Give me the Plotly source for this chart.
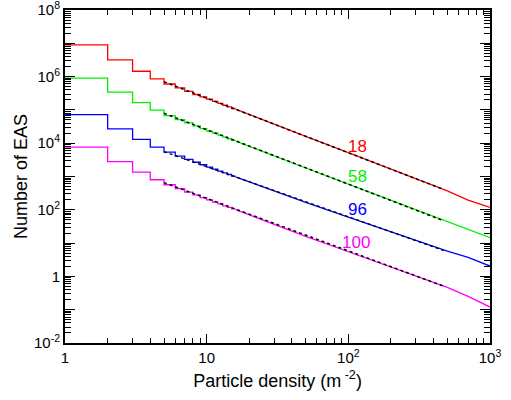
import math
import plotly.graph_objects as go

# ---- data ----
bin_edges = list(range(1, 17))  # integer bins 1..16

red_bins = [9.0e6, 3.2e6, 1.45e6, 8.5e5, 6.0e5, 4.6e5, 3.6e5, 2.9e5, 2.45e5, 2.1e5, 1.8e5, 1.57e5, 1.38e5, 1.23e5, 1.1e5]
green_bins = [9.0e5, 3.4e5, 1.65e5, 9.8e4, 6.7e4, 5.1e4, 4.05e4, 3.3e4, 2.74e4, 2.32e4, 2.0e4, 1.74e4, 1.53e4, 1.36e4, 1.22e4]
blue_bins = [7.2e4, 2.7e4, 1.3e4, 7.6e3, 5.4e3, 4.1e3, 3.27e3, 2.68e3, 2.25e3, 1.92e3, 1.66e3, 1.46e3, 1.29e3, 1.15e3, 1.03e3]
magenta_bins = [7.6e3, 2.8e3, 1.35e3, 800, 565, 430, 340, 279, 233, 198, 171, 150, 132, 118, 106]

tail_x = [16, 20, 30, 50, 100, 200, 300, 500, 700, 1000]
red_tail = [1.05e5, 7.2e4, 3.7e4, 1.6e4, 5.2e3, 1.66e3, 850, 370, 195, 118]
green_tail = [1.16e4, 8.0e3, 4.0e3, 1.8e3, 590, 194, 102, 45, 25, 14.5]
blue_tail = [980, 690, 370, 168, 60, 21, 12, 5.7, 3.7, 2.05]
magenta_tail = [101, 70, 36, 16, 5.5, 1.87, 1.0, 0.47, 0.25, 0.12]

fit_x = [5, 470]
red_fit = [7.0e5, 410]
green_fit = [7.9e4, 47]
blue_fit = [5.6e3, 6.0]
magenta_fit = [655, 0.51]

labels = ["18", "58", "96", "100"]
label_x = [116, 116, 116, 113]
label_y = [7.9e3, 1.03e3, 104, 10.3]
colors = ["#ff0000", "#00f000", "#0000ff", "#ff00ff"]

series = [
    (red_bins, red_tail, red_fit),
    (green_bins, green_tail, green_fit),
    (blue_bins, blue_tail, blue_fit),
    (magenta_bins, magenta_tail, magenta_fit),
]

fig = go.Figure()
for (bins, tail, fit), col in zip(series, colors):
    fig.add_trace(go.Scatter(x=bin_edges, y=bins + [bins[-1]], mode="lines",
                             line=dict(color=col, width=1.3, shape="hv"),
                             showlegend=False, hoverinfo="skip"))
    fig.add_trace(go.Scatter(x=tail_x, y=tail, mode="lines",
                             line=dict(color=col, width=1.3),
                             showlegend=False, hoverinfo="skip"))
for (bins, tail, fit), col in zip(series, colors):
    fig.add_trace(go.Scatter(x=fit_x, y=fit, mode="lines",
                             line=dict(color="black", width=1.5, dash="3px,3px"),
                             showlegend=False, hoverinfo="skip"))

for t, lx, ly, col in zip(labels, label_x, label_y, colors):
    fig.add_annotation(x=math.log10(lx), y=math.log10(ly), text=t, showarrow=False,
                       font=dict(size=17, color=col), xref="x", yref="y")

x_minor = [k * 10 ** n for n in range(0, 3) for k in range(2, 10)]
y_major = [10.0 ** k for k in range(-2, 9)]
y_text = []
for k in range(-2, 9):
    if k % 2:
        y_text.append("")
    elif k == 0:
        y_text.append("1")
    else:
        y_text.append("10<sup>%d</sup>" % k)
y_minor = [k * 10.0 ** n for n in range(-2, 8) for k in range(2, 10)]

font = "Liberation Sans, Arial, Helvetica, sans-serif"
fig.update_layout(
    width=511, height=400,
    margin=dict(l=65, r=21, t=10, b=57),
    paper_bgcolor="white", plot_bgcolor="white",
    font=dict(family=font, size=15, color="black"),
    xaxis=dict(type="log", range=[0, 3], tickmode="array", automargin=False,
               tickvals=[1, 10, 100, 1000],
               ticktext=["1", "10", "10<sup>2</sup>", "10<sup>3</sup>"],
               ticklabeloverflow="allow",
               ticks="inside", ticklen=9, tickwidth=1, tickcolor="black",
               showline=True, linewidth=2, linecolor="black", mirror="ticks",
               showgrid=False, zeroline=False,
               minor=dict(tickmode="array", tickvals=x_minor, ticks="inside",
                          ticklen=5, tickwidth=1, tickcolor="black", showgrid=False),
               title=dict(text="Particle density (m<sup> -2</sup>)", font=dict(size=18), standoff=9),
               tickfont=dict(size=15)),
    yaxis=dict(type="log", range=[-2, 8], tickmode="array", automargin=False,
               tickvals=y_major, ticktext=y_text,
               ticklabeloverflow="allow",
               ticks="inside", ticklen=10, tickwidth=1, tickcolor="black",
               showline=True, linewidth=2, linecolor="black", mirror="ticks",
               showgrid=False, zeroline=False,
               minor=dict(tickmode="array", tickvals=y_minor, ticks="inside",
                          ticklen=6, tickwidth=1, tickcolor="black", showgrid=False),
               title=dict(text="Number of EAS", font=dict(size=18), standoff=2),
               tickfont=dict(size=15)),
)

fig.write_html("out.html", config={"displayModeBar": False},
               post_script="document.body.style.margin='0';document.body.style.overflow='hidden';")
